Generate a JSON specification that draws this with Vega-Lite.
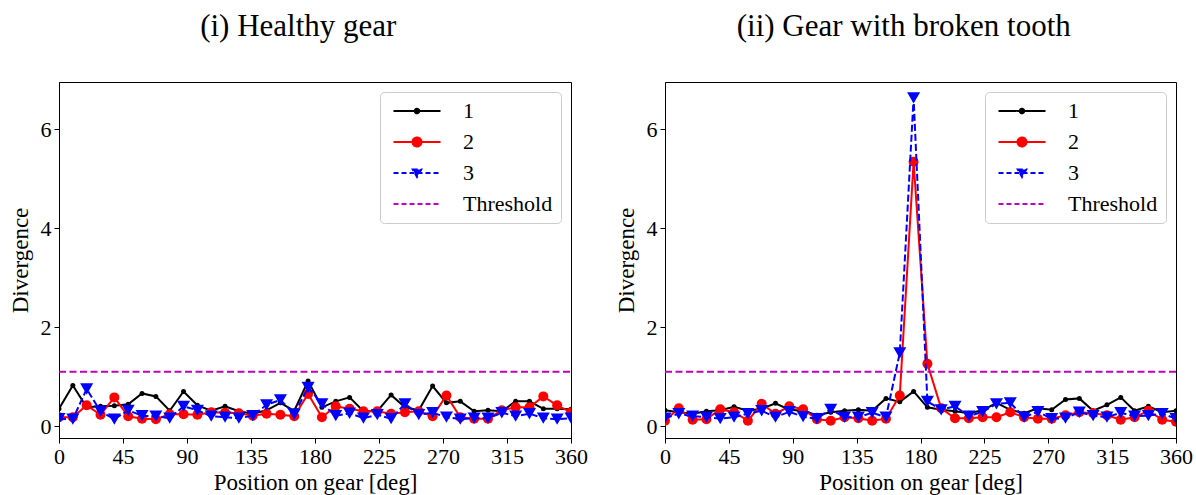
{
"$schema": "https://vega.github.io/schema/vega-lite/v6.json",
"padding": {"left": 8, "top": 10, "right": 5, "bottom": 0},
"spacing": 26,
"background": "white",
"config": {
 "font": "Liberation Serif",
 "view": {"stroke": "black", "strokeWidth": 1},
 "axis": {"labelFont": "Liberation Serif", "titleFont": "Liberation Serif", "labelFontSize": 22, "titleFontSize": 23, "titleFontWeight": "normal", "labelColor": "black", "titleColor": "black", "tickColor": "black", "domainColor": "black", "tickSize": 5, "grid": false, "labelPadding": 3},
 "axisX": {"titlePadding": 4, "labelFlush": false, "labelOverlap": false},
 "axisY": {"titlePadding": 8},
 "title": {"font": "Liberation Serif", "fontSize": 31, "fontWeight": "normal", "color": "black", "offset": 39, "frame": "bounds", "anchor": "middle"}
},
"datasets": {
 "pts": [
  {"p":"a","x":0,"1":0.35,"2":0.18,"3":0.15},
  {"p":"a","x":9.73,"1":0.82,"2":0.18,"3":0.14},
  {"p":"a","x":19.46,"1":0.38,"2":0.42,"3":0.75},
  {"p":"a","x":29.19,"1":0.40,"2":0.23,"3":0.30},
  {"p":"a","x":38.92,"1":0.41,"2":0.58,"3":0.14},
  {"p":"a","x":48.65,"1":0.44,"2":0.20,"3":0.32},
  {"p":"a","x":58.38,"1":0.66,"2":0.15,"3":0.21},
  {"p":"a","x":68.11,"1":0.60,"2":0.14,"3":0.20},
  {"p":"a","x":77.84,"1":0.31,"2":0.24,"3":0.16},
  {"p":"a","x":87.57,"1":0.70,"2":0.24,"3":0.40},
  {"p":"a","x":97.30,"1":0.42,"2":0.23,"3":0.32},
  {"p":"a","x":107.03,"1":0.31,"2":0.28,"3":0.20},
  {"p":"a","x":116.76,"1":0.40,"2":0.27,"3":0.18},
  {"p":"a","x":126.49,"1":0.30,"2":0.26,"3":0.16},
  {"p":"a","x":136.22,"1":0.25,"2":0.21,"3":0.21},
  {"p":"a","x":145.95,"1":0.32,"2":0.25,"3":0.43},
  {"p":"a","x":155.68,"1":0.47,"2":0.23,"3":0.53},
  {"p":"a","x":165.41,"1":0.31,"2":0.20,"3":0.24},
  {"p":"a","x":175.14,"1":0.91,"2":0.65,"3":0.78},
  {"p":"a","x":184.86,"1":0.38,"2":0.18,"3":0.45},
  {"p":"a","x":194.59,"1":0.50,"2":0.40,"3":0.21},
  {"p":"a","x":204.32,"1":0.58,"2":0.35,"3":0.26},
  {"p":"a","x":214.05,"1":0.30,"2":0.30,"3":0.16},
  {"p":"a","x":223.78,"1":0.30,"2":0.30,"3":0.23},
  {"p":"a","x":233.51,"1":0.63,"2":0.25,"3":0.15},
  {"p":"a","x":243.24,"1":0.38,"2":0.28,"3":0.45},
  {"p":"a","x":252.97,"1":0.32,"2":0.30,"3":0.23},
  {"p":"a","x":262.70,"1":0.81,"2":0.20,"3":0.27},
  {"p":"a","x":272.43,"1":0.47,"2":0.62,"3":0.18},
  {"p":"a","x":282.16,"1":0.50,"2":0.18,"3":0.14},
  {"p":"a","x":291.89,"1":0.30,"2":0.15,"3":0.16},
  {"p":"a","x":301.62,"1":0.32,"2":0.15,"3":0.16},
  {"p":"a","x":311.35,"1":0.30,"2":0.32,"3":0.27},
  {"p":"a","x":321.08,"1":0.50,"2":0.38,"3":0.20},
  {"p":"a","x":330.81,"1":0.50,"2":0.38,"3":0.25},
  {"p":"a","x":340.54,"1":0.35,"2":0.60,"3":0.16},
  {"p":"a","x":350.27,"1":0.35,"2":0.42,"3":0.14},
  {"p":"a","x":360,"1":0.34,"2":0.28,"3":0.16},
  {"p":"b","x":0,"1":0.32,"2":0.11,"3":0.16},
  {"p":"b","x":9.73,"1":0.28,"2":0.36,"3":0.25},
  {"p":"b","x":19.46,"1":0.25,"2":0.13,"3":0.20},
  {"p":"b","x":29.19,"1":0.30,"2":0.14,"3":0.18},
  {"p":"b","x":38.92,"1":0.32,"2":0.34,"3":0.15},
  {"p":"b","x":48.65,"1":0.39,"2":0.28,"3":0.18},
  {"p":"b","x":58.38,"1":0.31,"2":0.11,"3":0.25},
  {"p":"b","x":68.11,"1":0.35,"2":0.45,"3":0.31},
  {"p":"b","x":77.84,"1":0.46,"2":0.25,"3":0.18},
  {"p":"b","x":87.57,"1":0.33,"2":0.40,"3":0.29},
  {"p":"b","x":97.30,"1":0.31,"2":0.34,"3":0.19},
  {"p":"b","x":107.03,"1":0.22,"2":0.14,"3":0.15},
  {"p":"b","x":116.76,"1":0.28,"2":0.11,"3":0.34},
  {"p":"b","x":126.49,"1":0.31,"2":0.18,"3":0.18},
  {"p":"b","x":136.22,"1":0.33,"2":0.16,"3":0.18},
  {"p":"b","x":145.95,"1":0.31,"2":0.11,"3":0.27},
  {"p":"b","x":155.68,"1":0.56,"2":0.15,"3":0.18},
  {"p":"b","x":165.41,"1":0.49,"2":0.62,"3":1.48},
  {"p":"b","x":175.14,"1":0.70,"2":5.34,"3":6.63},
  {"p":"b","x":184.86,"1":0.38,"2":1.26,"3":0.50},
  {"p":"b","x":194.59,"1":0.33,"2":0.36,"3":0.33},
  {"p":"b","x":204.32,"1":0.30,"2":0.16,"3":0.40},
  {"p":"b","x":214.05,"1":0.26,"2":0.16,"3":0.20},
  {"p":"b","x":223.78,"1":0.32,"2":0.18,"3":0.29},
  {"p":"b","x":233.51,"1":0.47,"2":0.18,"3":0.45},
  {"p":"b","x":243.24,"1":0.33,"2":0.28,"3":0.47},
  {"p":"b","x":252.97,"1":0.26,"2":0.18,"3":0.18},
  {"p":"b","x":262.70,"1":0.36,"2":0.15,"3":0.29},
  {"p":"b","x":272.43,"1":0.33,"2":0.15,"3":0.15},
  {"p":"b","x":282.16,"1":0.54,"2":0.22,"3":0.16},
  {"p":"b","x":291.89,"1":0.56,"2":0.28,"3":0.28},
  {"p":"b","x":301.62,"1":0.31,"2":0.26,"3":0.21},
  {"p":"b","x":311.35,"1":0.43,"2":0.22,"3":0.18},
  {"p":"b","x":321.08,"1":0.58,"2":0.13,"3":0.27},
  {"p":"b","x":330.81,"1":0.31,"2":0.18,"3":0.20},
  {"p":"b","x":340.54,"1":0.40,"2":0.31,"3":0.21},
  {"p":"b","x":350.27,"1":0.28,"2":0.13,"3":0.25},
  {"p":"b","x":360,"1":0.31,"2":0.09,"3":0.15}
 ],
 "thr": [
  {"p":"a","x":0,"y":1.1,"series":"Threshold"},
  {"p":"a","x":360,"y":1.1,"series":"Threshold"},
  {"p":"b","x":0,"y":1.1,"series":"Threshold"},
  {"p":"b","x":360,"y":1.1,"series":"Threshold"}
 ]
},
"resolve": {"scale": {"color": "independent", "x": "independent", "y": "independent"}, "legend": {"color": "independent"}},
"hconcat": [
 {
  "title": {"text": "(i) Healthy gear"},
  "width": 512, "height": 356,
  "data": {"name": "pts"},
  "transform": [{"filter": "datum.p=='a'"}, {"fold": ["1","2","3"], "as": ["series","y"]}],
  "encoding": {
   "x": {"field": "x", "type": "quantitative", "scale": {"domain": [0,360], "nice": false, "zero": false}, "axis": {"values": [0,45,90,135,180,225,270,315,360], "title": "Position on gear [deg]"}},
   "y": {"field": "y", "type": "quantitative", "scale": {"domain": [-0.24,6.95], "nice": false, "zero": false}, "axis": {"values": [0,2,4,6], "title": "Divergence"}},
   "color": {"field": "series", "type": "nominal", "scale": {"domain": ["1","2","3","Threshold"], "range": ["#000000","#ff0000","#0000ff","#bf00bf"]},
    "legend": {"title": null, "orient": "top-right", "offset": 10, "labelFontSize": 22, "labelFont": "Liberation Serif", "labelColor": "black", "symbolSize": 100, "labelOffset": 35, "symbolOffset": 18, "rowPadding": 9, "padding": 8, "strokeColor": "#cccccc", "fillColor": "white", "cornerRadius": 4, "symbolStrokeWidth": 2,
     "encode": {"symbols": {"update": {
      "shape": {"signal": "datum.value=='1' ? 'M-4.7,0H4.7M0.45,0A0.45,0.45 0 1,1 -0.45,0A0.45,0.45 0 1,1 0.45,0Z' : datum.value=='2' ? 'M-4.7,0H4.7M0.9,0A0.9,0.9 0 1,1 -0.9,0A0.9,0.9 0 1,1 0.9,0Z' : datum.value=='3' ? 'M-4.7,0H4.7M-0.85,-0.7L0.85,-0.7L0,0.8Z' : 'M-4.7,0H4.7'"},
      "fill": {"signal": "datum.value=='1' ? '#000000' : datum.value=='2' ? '#ff0000' : datum.value=='3' ? '#0000ff' : 'transparent'"},
      "stroke": {"signal": "datum.value=='1' ? '#000000' : datum.value=='2' ? '#ff0000' : datum.value=='3' ? '#0000ff' : '#bf00bf'"},
      "strokeDash": {"signal": "datum.value=='3' || datum.value=='Threshold' ? [5,3] : [1,0]"},
      "strokeWidth": {"value": 2}, "opacity": {"value": 1}, "fillOpacity": {"value": 1}, "strokeOpacity": {"value": 1}
     }}}}}
  },
  "layer": [
   {"transform": [{"filter": "datum.series=='1'"}], "mark": {"type": "line", "strokeWidth": 2, "clip": true}},
   {"transform": [{"filter": "datum.series=='1'"}], "mark": {"type": "point", "filled": true, "shape": "circle", "size": 25, "opacity": 1, "clip": true}},
   {"transform": [{"filter": "datum.series=='2'"}], "mark": {"type": "line", "strokeWidth": 2, "clip": true}},
   {"transform": [{"filter": "datum.series=='2'"}], "mark": {"type": "point", "filled": true, "shape": "circle", "size": 100, "opacity": 1, "clip": true}},
   {"transform": [{"filter": "datum.series=='3'"}], "mark": {"type": "line", "strokeWidth": 2, "strokeDash": [7,3], "clip": true}},
   {"transform": [{"filter": "datum.series=='3'"}], "mark": {"type": "point", "filled": true, "shape": "triangle-down", "size": 170, "opacity": 1, "clip": true}},
   {"data": {"name": "thr"}, "transform": [{"filter": "datum.p=='a'"}], "mark": {"type": "line", "strokeWidth": 2, "strokeDash": [7,3.5], "clip": true}}
  ]
 },
 {
  "title": {"text": "(ii) Gear with broken tooth"},
  "width": 511, "height": 356,
  "data": {"name": "pts"},
  "transform": [{"filter": "datum.p=='b'"}, {"fold": ["1","2","3"], "as": ["series","y"]}],
  "encoding": {
   "x": {"field": "x", "type": "quantitative", "scale": {"domain": [0,360], "nice": false, "zero": false}, "axis": {"values": [0,45,90,135,180,225,270,315,360], "title": "Position on gear [deg]"}},
   "y": {"field": "y", "type": "quantitative", "scale": {"domain": [-0.24,6.95], "nice": false, "zero": false}, "axis": {"values": [0,2,4,6], "title": "Divergence"}},
   "color": {"field": "series", "type": "nominal", "scale": {"domain": ["1","2","3","Threshold"], "range": ["#000000","#ff0000","#0000ff","#bf00bf"]},
    "legend": {"title": null, "orient": "top-right", "offset": 10, "labelFontSize": 22, "labelFont": "Liberation Serif", "labelColor": "black", "symbolSize": 100, "labelOffset": 35, "symbolOffset": 18, "rowPadding": 9, "padding": 8, "strokeColor": "#cccccc", "fillColor": "white", "cornerRadius": 4, "symbolStrokeWidth": 2,
     "encode": {"symbols": {"update": {
      "shape": {"signal": "datum.value=='1' ? 'M-4.7,0H4.7M0.45,0A0.45,0.45 0 1,1 -0.45,0A0.45,0.45 0 1,1 0.45,0Z' : datum.value=='2' ? 'M-4.7,0H4.7M0.9,0A0.9,0.9 0 1,1 -0.9,0A0.9,0.9 0 1,1 0.9,0Z' : datum.value=='3' ? 'M-4.7,0H4.7M-0.85,-0.7L0.85,-0.7L0,0.8Z' : 'M-4.7,0H4.7'"},
      "fill": {"signal": "datum.value=='1' ? '#000000' : datum.value=='2' ? '#ff0000' : datum.value=='3' ? '#0000ff' : 'transparent'"},
      "stroke": {"signal": "datum.value=='1' ? '#000000' : datum.value=='2' ? '#ff0000' : datum.value=='3' ? '#0000ff' : '#bf00bf'"},
      "strokeDash": {"signal": "datum.value=='3' || datum.value=='Threshold' ? [5,3] : [1,0]"},
      "strokeWidth": {"value": 2}, "opacity": {"value": 1}, "fillOpacity": {"value": 1}, "strokeOpacity": {"value": 1}
     }}}}}
  },
  "layer": [
   {"transform": [{"filter": "datum.series=='1'"}], "mark": {"type": "line", "strokeWidth": 2, "clip": true}},
   {"transform": [{"filter": "datum.series=='1'"}], "mark": {"type": "point", "filled": true, "shape": "circle", "size": 25, "opacity": 1, "clip": true}},
   {"transform": [{"filter": "datum.series=='2'"}], "mark": {"type": "line", "strokeWidth": 2, "clip": true}},
   {"transform": [{"filter": "datum.series=='2'"}], "mark": {"type": "point", "filled": true, "shape": "circle", "size": 100, "opacity": 1, "clip": true}},
   {"transform": [{"filter": "datum.series=='3'"}], "mark": {"type": "line", "strokeWidth": 2, "strokeDash": [7,3], "clip": true}},
   {"transform": [{"filter": "datum.series=='3'"}], "mark": {"type": "point", "filled": true, "shape": "triangle-down", "size": 170, "opacity": 1, "clip": true}},
   {"data": {"name": "thr"}, "transform": [{"filter": "datum.p=='b'"}], "mark": {"type": "line", "strokeWidth": 2, "strokeDash": [7,3.5], "clip": true}}
  ]
 }
]
}
